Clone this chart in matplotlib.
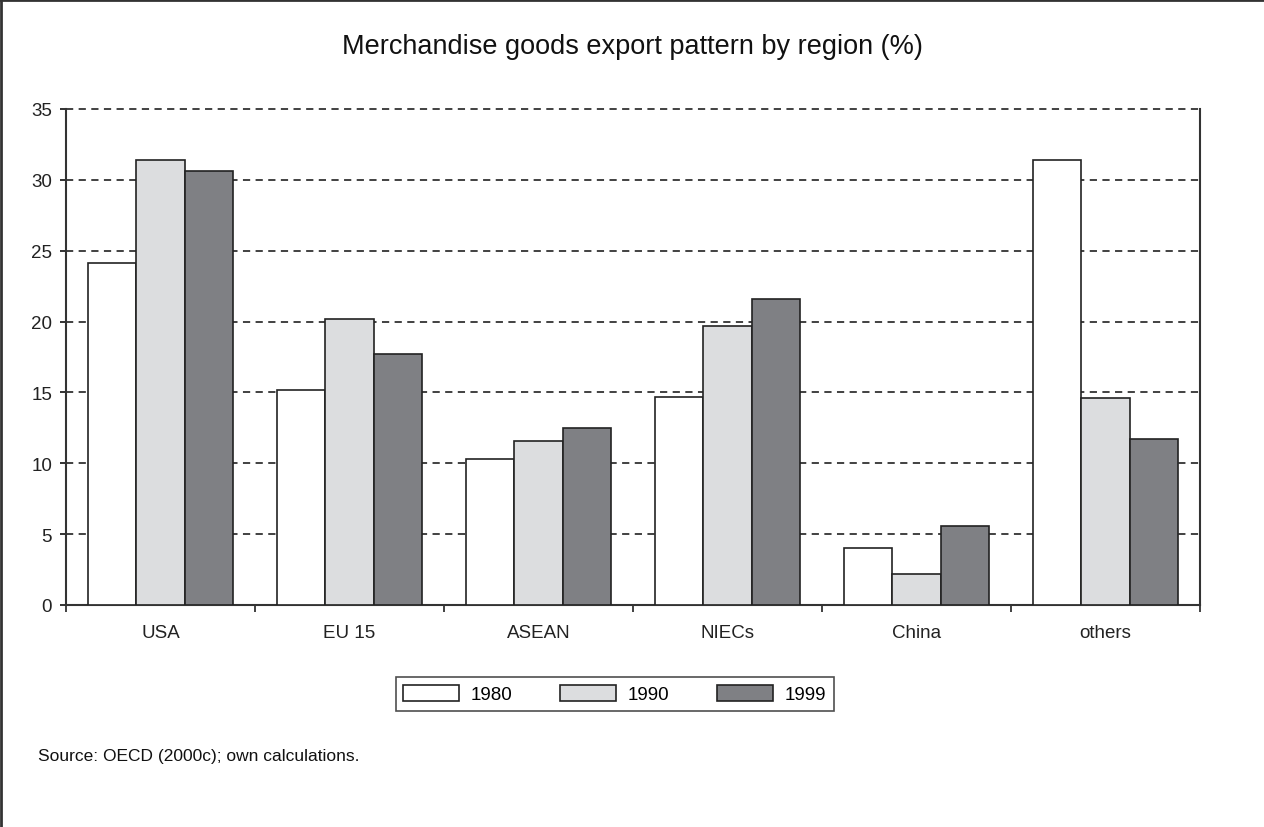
import numpy as np
import matplotlib
matplotlib.use("Agg")
import matplotlib.pyplot as plt
from matplotlib.lines import Line2D

plt.rcParams['font.family'] = ['Liberation Sans', 'DejaVu Sans']

regions = ['USA', 'EU 15', 'ASEAN', 'NIECs', 'China', 'others']
years = ['1980', '1990', '1999']
v1980 = [24.1, 15.2, 10.3, 14.7, 4.0, 31.4]
v1990 = [31.4, 20.2, 11.6, 19.7, 2.2, 14.6]
v1999 = [30.6, 17.7, 12.5, 21.6, 5.6, 11.7]
colors = ['#ffffff', '#dcdddf', '#7f8084']

fig = plt.figure(figsize=(12.64, 8.28), dpi=100)
ax = fig.add_axes([66/1264, 1-606/828, (1200-66)/1264, (606-110)/828])

x = np.arange(len(regions))
w = 0.254
for i, (vals, c, lab) in enumerate(zip([v1980, v1990, v1999], colors, years)):
    ax.bar(x + (i-1)*w, vals, w, color=c, edgecolor='#222222', linewidth=1.2,
           label=lab, zorder=3)

ax.set_xlim(-0.5, len(regions)-0.5)
ax.set_ylim(0, 35)
ax.set_yticks(np.arange(0, 36, 5))
ax.yaxis.grid(True, linestyle=(0, (4, 3)), color='#333333', linewidth=1.3, zorder=0)
ax.set_axisbelow(True)
for gl in ax.get_ygridlines():
    gl.set_clip_on(False)

ax.set_xticks(x)
ax.set_xticklabels(regions)
ax.set_xticks(np.arange(-0.5, len(regions), 1), minor=True)
ax.tick_params(axis='x', which='major', length=0, pad=14, labelsize=13.5, colors='#222222')
ax.tick_params(axis='x', which='minor', length=5, width=1.3, direction='out', color='#333333')
ax.tick_params(axis='y', length=4, width=1.3, pad=6, labelsize=13.5, colors='#222222')

ax.spines['top'].set_visible(False)
for s in ['left', 'right', 'bottom']:
    ax.spines[s].set_color('#333333')
    ax.spines[s].set_linewidth(1.5)

fig.text(632/1264, 1-47/828, 'Merchandise goods export pattern by region (%)',
         ha='center', va='center', fontsize=19.5, color='#111111')
fig.text(38/1264, 1-757/828, 'Source: OECD (2000c); own calculations.',
         ha='left', va='center', fontsize=12.5, color='#111111')

leg = fig.legend(loc='center', bbox_to_anchor=(614.5/1264, 1-695/828), ncol=3,
                 frameon=True, fancybox=False, fontsize=13.5, handlelength=3.0,
                 handleheight=1.0, handletextpad=0.6, columnspacing=2.55,
                 borderpad=0.4)
leg.get_frame().set_edgecolor('#222222')
leg.get_frame().set_linewidth(1.2)

# outer frame (top and left edges only)
fig.add_artist(Line2D([0, 1], [0.999, 0.999], color='#333333', linewidth=2, transform=fig.transFigure))
fig.add_artist(Line2D([0.001, 0.001], [0, 1], color='#333333', linewidth=2, transform=fig.transFigure))

fig.savefig('out.png', dpi=100)
